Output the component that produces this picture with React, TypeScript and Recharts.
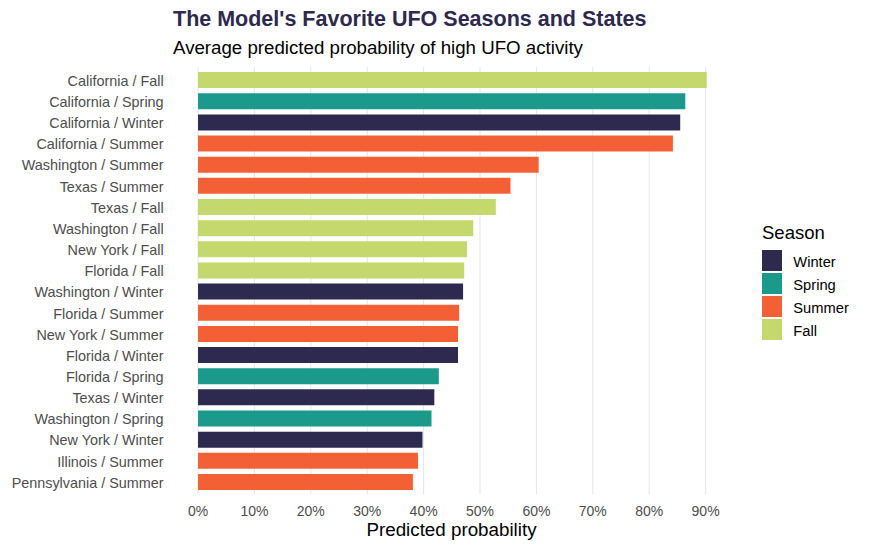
import React from "react";
import { BarChart, Bar, XAxis, YAxis, CartesianGrid, Cell } from "recharts";

const categories = [
  "California / Fall",
  "California / Spring",
  "California / Winter",
  "California / Summer",
  "Washington / Summer",
  "Texas / Summer",
  "Texas / Fall",
  "Washington / Fall",
  "New York / Fall",
  "Florida / Fall",
  "Washington / Winter",
  "Florida / Summer",
  "New York / Summer",
  "Florida / Winter",
  "Florida / Spring",
  "Texas / Winter",
  "Washington / Spring",
  "New York / Winter",
  "Illinois / Summer",
  "Pennsylvania / Summer",
];

const barSeasons = [
  "Fall", "Spring", "Winter", "Summer", "Summer", "Summer", "Fall", "Fall", "Fall", "Fall",
  "Winter", "Summer", "Summer", "Winter", "Spring", "Winter", "Spring", "Winter", "Summer", "Summer",
];

const probabilities = [
  0.902, 0.864, 0.855, 0.842, 0.604, 0.554, 0.528, 0.488, 0.477, 0.472,
  0.470, 0.463, 0.461, 0.461, 0.427, 0.419, 0.414, 0.398, 0.390, 0.381,
];

const seasonNames = ["Winter", "Spring", "Summer", "Fall"];
const seasonColors = ["#2E294E", "#1B998B", "#F46036", "#C5D86D"];

const xTicks = [0, 0.1, 0.2, 0.3, 0.4, 0.5, 0.6, 0.7, 0.8, 0.9];

const data = categories.map((name, i) => ({
  name,
  value: probabilities[i],
  season: barSeasons[i],
}));

const FONT = "'Liberation Sans', Arial, Helvetica, sans-serif";

const colorOf = (s: string) => seasonColors[seasonNames.indexOf(s)];

const YTick = (props: any) => {
  const { x, y, payload } = props;
  return (
    <text
      x={x}
      y={y}
      dy={6.2}
      textAnchor="end"
      fill="#4D4D4D"
      fontSize={14.4}
      fontFamily={FONT}
    >
      {payload.value}
    </text>
  );
};

export default function App() {
  return (
    <div
      style={{
        position: "absolute",
        left: 0,
        top: 0,
        width: 869,
        height: 551,
        background: "#ffffff",
        fontFamily: FONT,
      }}
    >
      <div
        style={{
          position: "absolute",
          left: 173,
          top: 8.5,
          fontSize: 21.5,
          lineHeight: "21.5px",
          fontWeight: "bold",
          color: "#2E294E",
          whiteSpace: "nowrap",
        }}
      >
        The Model's Favorite UFO Seasons and States
      </div>
      <div
        style={{
          position: "absolute",
          left: 173,
          top: 39.2,
          fontSize: 18.7,
          lineHeight: "18.7px",
          color: "#000000",
          whiteSpace: "nowrap",
        }}
      >
        Average predicted probability of high UFO activity
      </div>

      <BarChart
        width={869}
        height={551}
        data={data}
        layout="vertical"
        barSize={16}
        margin={{ top: 67, right: 136.9, bottom: 26.7, left: 7.6 }}
      >
        <CartesianGrid
          horizontal={false}
          stroke="#E5E5E5"
          strokeWidth={1}
          verticalValues={xTicks}
        />
        <XAxis
          type="number"
          domain={[-0.0451, 0.947]}
          ticks={xTicks}
          allowDataOverflow
          height={30}
          axisLine={false}
          tickLine={false}
          tickSize={0}
          tickMargin={11.5}
          tickFormatter={(v: number) => `${Math.round(v * 100)}%`}
          tick={{ fill: "#4D4D4D", fontSize: 14, fontFamily: FONT }}
          interval={0}
        />
        <YAxis
          type="category"
          dataKey="name"
          width={165}
          axisLine={false}
          tickLine={false}
          tickSize={0}
          tickMargin={9}
          interval={0}
          padding={{ top: 2.1, bottom: 2.2 }}
          tick={<YTick />}
        />
        <Bar dataKey="value" isAnimationActive={false}>
          {data.map((d, i) => (
            <Cell key={i} fill={colorOf(d.season)} />
          ))}
        </Bar>
      </BarChart>

      <div
        style={{
          position: "absolute",
          left: 351.5,
          top: 520.8,
          width: 200,
          textAlign: "center",
          fontSize: 18.8,
          lineHeight: "18.8px",
          color: "#000000",
          whiteSpace: "nowrap",
        }}
      >
        Predicted probability
      </div>

      <div
        style={{
          position: "absolute",
          left: 762,
          top: 223.6,
          fontSize: 18.5,
          lineHeight: "18.5px",
          color: "#000000",
          whiteSpace: "nowrap",
        }}
      >
        Season
      </div>
      {seasonNames.map((s, i) => (
        <React.Fragment key={s}>
          <div
            style={{
              position: "absolute",
              left: 762,
              top: 250 + i * 23,
              width: 20,
              height: 20.7,
              background: seasonColors[i],
            }}
          />
          <div
            style={{
              position: "absolute",
              left: 793.3,
              top: 254.85 + i * 23,
              fontSize: 14.7,
              lineHeight: "14.7px",
              color: "#000000",
              whiteSpace: "nowrap",
            }}
          >
            {s}
          </div>
        </React.Fragment>
      ))}
    </div>
  );
}
